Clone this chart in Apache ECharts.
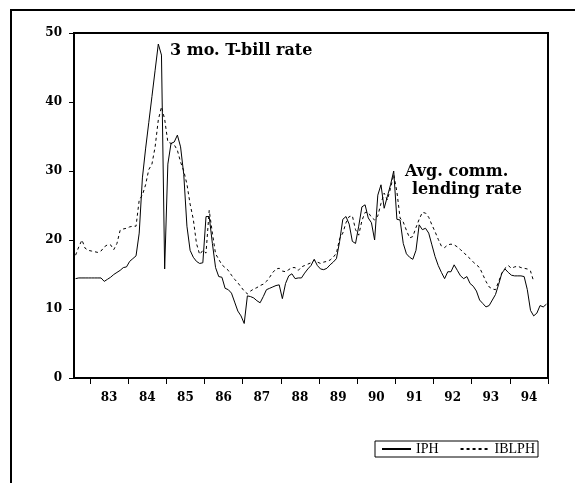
<!DOCTYPE html>
<html>
<head>
<meta charset="utf-8">
<script src="https://cdn.jsdelivr.net/npm/echarts@6/dist/echarts.min.js"></script>
<style>
  html, body { margin: 0; padding: 0; background: #fff; }
  #chart { width: 575px; height: 483px; }
</style>
</head>
<body>
<div id="chart"></div>
<script>
// monthly observations, 1982M08 .. 1994M12
const startYear = 1982
const startMonth = 8
const nObs = 149

// 3 mo. T-bill rate
const iph = [
  14.4, 14.5, 14.5, 14.5, 14.5, 14.5, 14.5, 14.5, 14.5, 14.0, 14.3, 14.6, 15.0, 15.3, 15.6, 16.0, 16.1, 16.9, 17.3, 17.7,
  21.0, 29.0, 33.2, 37.0, 40.8, 44.6, 48.4, 46.8, 15.8, 31.0, 34.0, 34.2, 35.2, 33.5, 29.5, 22.0, 18.5, 17.5, 16.9, 16.6,
  16.7, 23.4, 23.4, 19.5, 16.0, 14.7, 14.6, 13.0, 12.8, 12.3, 11.0, 9.7, 9.0, 7.9, 11.9, 11.8, 11.6, 11.2, 10.9, 11.8,
  12.8, 13.0, 13.2, 13.4, 13.5, 11.5, 13.7, 14.8, 15.1, 14.4, 14.5, 14.5, 15.2, 15.8, 16.3, 17.2, 16.3, 15.8, 15.7, 15.9,
  16.4, 16.8, 17.3, 19.8, 23.0, 23.4, 22.3, 19.8, 19.5, 22.0, 24.8, 25.1, 23.2, 22.5, 20.0, 26.5, 28.0, 24.6, 26.3, 28.0,
  30.0, 23.0, 22.9, 19.5, 18.0, 17.5, 17.2, 18.5, 22.2, 21.5, 21.7, 21.0, 19.3, 17.6, 16.3, 15.3, 14.4, 15.4, 15.4, 16.4,
  15.6, 14.8, 14.4, 14.7, 13.7, 13.3, 12.6, 11.3, 10.8, 10.3, 10.5, 11.3, 12.1, 13.6, 15.2, 15.8, 15.3, 14.9, 14.8, 14.8,
  14.8, 14.7, 12.8, 9.8, 9.0, 9.4, 10.5, 10.3, 10.7
]

// average commercial bank lending rate
const iblph = [
  17.8, 19.0, 20.0, 18.8, 18.5, 18.4, 18.3, 18.2, 18.4, 19.0, 19.3, 19.3, 18.6, 19.5, 21.4, 21.6, 21.7, 21.9, 22.0, 22.0,
  25.8, 26.5, 28.0, 30.2, 31.0, 33.5, 37.4, 39.3, 37.5, 34.2, 34.0, 33.8, 33.0, 31.3, 30.0, 28.1, 25.2, 23.0, 19.5, 17.9,
  18.5, 18.1, 24.3, 21.0, 18.0, 17.2, 16.4, 16.0, 15.6, 14.9, 14.3, 13.8, 13.2, 12.6, 12.2, 12.6, 12.9, 13.1, 13.4, 13.6,
  14.0, 14.6, 15.3, 15.8, 15.9, 15.5, 15.4, 15.7, 16.0, 16.0, 15.6, 16.1, 16.3, 16.5, 16.7, 17.1, 16.8, 16.6, 16.8, 16.9,
  17.1, 17.5, 18.1, 20.2, 21.0, 22.5, 23.4, 23.5, 21.5, 20.7, 22.8, 24.0, 24.0, 23.3, 22.9, 23.5, 25.3, 26.8, 25.8, 27.5,
  29.5, 27.0, 23.2, 22.6, 21.4, 20.3, 20.5, 21.8, 23.0, 24.0, 23.9, 23.3, 22.2, 21.2, 20.1, 19.1, 18.9, 19.3, 19.4, 19.3,
  19.0, 18.6, 18.2, 17.7, 17.3, 16.8, 16.4, 16.0, 15.0, 14.0, 13.2, 12.9, 12.8, 14.0, 15.2, 15.9, 16.3, 15.9, 16.1, 16.2,
  16.0, 15.9, 15.8, 15.5, 14.0, null, null, null, null
]

const yTicks = [0, 10, 20, 30, 40, 50]

const months = []
for (let k = 0; k < nObs; k++) {
  const m = startMonth - 1 + k
  const y = startYear + Math.floor(m / 12)
  const mm = (m % 12) + 1
  months.push(y + 'M' + (mm < 10 ? '0' + mm : mm))
}

const serif = 'DejaVu Serif'
const noteFont = 'bold 16px "DejaVu Serif"'

const chart = echarts.init(document.getElementById('chart'), null, {renderer: 'canvas'})
const options = {
  animation: false,
  backgroundColor: '#fff',
  grid: {
    left: 74,
    right: 27,
    top: 33,
    bottom: 105,
    show: true,
    borderColor: '#000',
    borderWidth: 2,
    backgroundColor: 'transparent'
  },
  xAxis: {
    type: 'category',
    data: months,
    boundaryGap: true,
    axisLine: {show: true, lineStyle: {color: '#000', width: 2}},
    axisTick: {
      show: true,
      length: 6,
      interval: (idx, val) => val.slice(4) === 'M01',
      lineStyle: {color: '#000', width: 1}
    },
    axisLabel: {
      interval: (idx, val) => val.slice(4) === 'M07',
      formatter: val => val.slice(2, 4),
      margin: 14,
      padding: [0, 3, 0, 0],
      color: '#000',
      fontFamily: serif,
      fontWeight: 'bold',
      fontSize: 12
    },
    splitLine: {show: false}
  },
  yAxis: {
    type: 'value',
    min: yTicks[0],
    max: yTicks[yTicks.length - 1],
    interval: 10,
    axisLine: {show: true, lineStyle: {color: '#000', width: 2}},
    axisTick: {show: true, length: 5, lineStyle: {color: '#000', width: 1}},
    axisLabel: {
      margin: 12,
      color: '#000',
      fontFamily: serif,
      fontWeight: 'bold',
      fontSize: 12
    },
    splitLine: {show: false}
  },
  legend: {
    data: ['IPH', 'IBLPH'],
    left: 375,
    top: 441,
    orient: 'horizontal',
    padding: [1, 3, 1, 6],
    itemWidth: 29,
    itemHeight: 8,
    itemGap: 21,
    borderColor: '#000',
    borderWidth: 1,
    borderRadius: 0,
    itemStyle: {opacity: 0},
    textStyle: {fontFamily: 'Liberation Serif', fontSize: 14, color: '#000'}
  },
  series: [
    {
      name: 'IPH',
      type: 'line',
      data: iph,
      symbol: 'none',
      lineStyle: {color: '#000', width: 1},
      itemStyle: {color: '#000'}
    },
    {
      name: 'IBLPH',
      type: 'line',
      data: iblph,
      symbol: 'none',
      lineStyle: {color: '#000', width: 1, type: [3, 3]},
      itemStyle: {color: '#000'}
    }
  ],
  graphic: [
    {
      type: 'polyline',
      shape: {points: [[11, 483], [11, 10], [575, 10]]},
      style: {stroke: '#000', lineWidth: 2, fill: null}
    },
    {
      type: 'text', left: 170, top: 43,
      style: {text: '3 mo. T-bill rate', font: noteFont, fill: '#000'}
    },
    {
      type: 'text', left: 405, top: 164,
      style: {text: 'Avg. comm.', font: noteFont, fill: '#000'}
    },
    {
      type: 'text', left: 412, top: 182,
      style: {text: 'lending rate', font: noteFont, fill: '#000'}
    }
  ]
}
chart.setOption(options)
</script>
</body>
</html>
